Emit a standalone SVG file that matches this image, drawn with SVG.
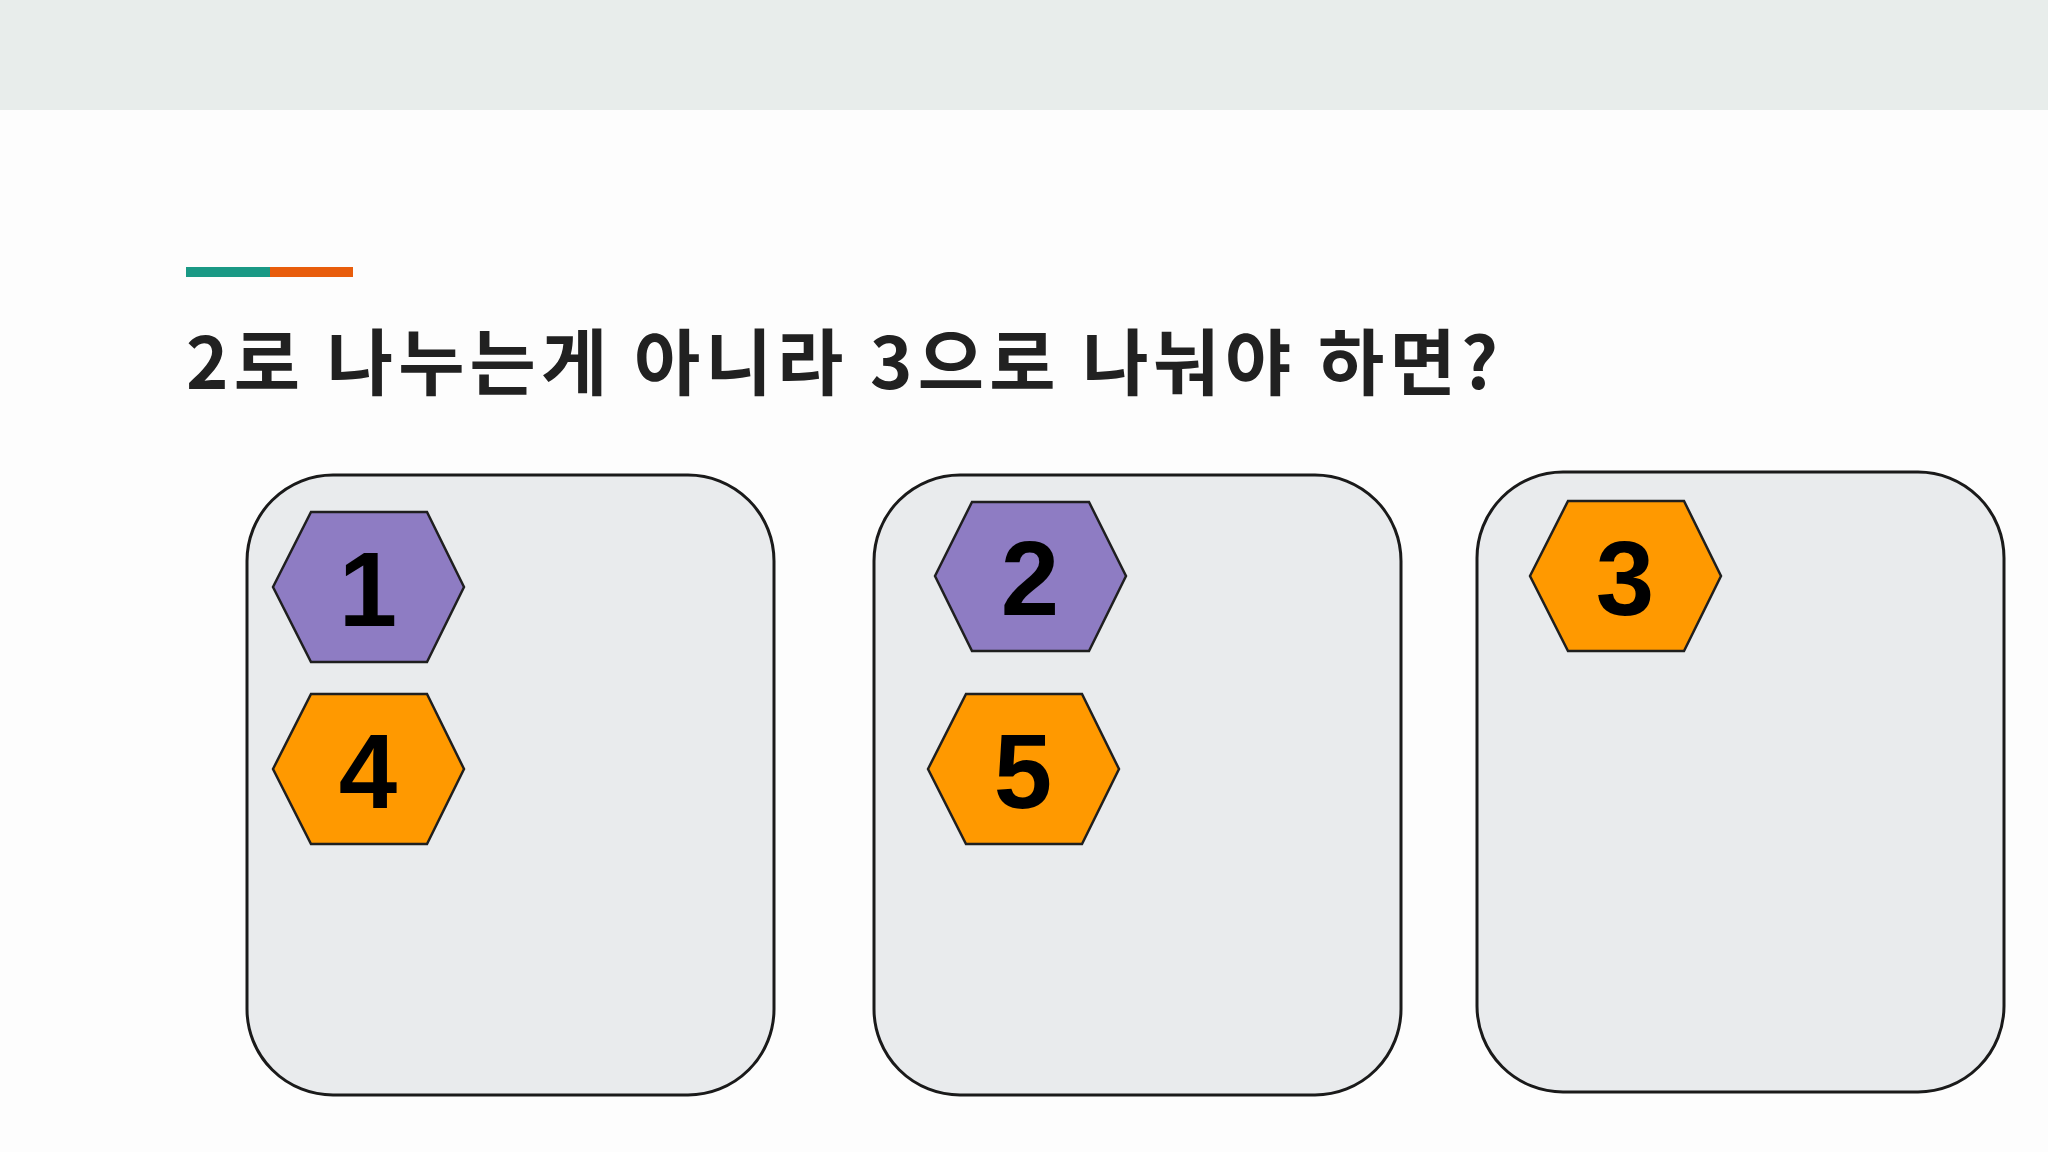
<svg xmlns="http://www.w3.org/2000/svg" width="2048" height="1152" viewBox="0 0 2048 1152">
<style>
.box{fill:#e9ebed;stroke:#1a1a1a;stroke-width:3}
.hex{stroke:#1f1f1f;stroke-width:2.5;stroke-linejoin:miter}
.p{fill:#8e7cc3}
.o{fill:#ff9900}
.num{font-family:"Liberation Sans",Arial,sans-serif;font-weight:700;font-size:105px;fill:#000;text-anchor:middle}
.title{font-family:"Noto Sans CJK KR","Noto Sans",sans-serif;font-weight:700;font-size:72px;fill:#212121}
</style>
<rect x="0" y="0" width="2048" height="1152" fill="#fdfdfd"/>
<rect x="0" y="0" width="2048" height="110" fill="#e8edeb"/>
<rect x="186" y="267" width="84" height="10" fill="#1a9985"/>
<rect x="270" y="267" width="83" height="10" fill="#e85d0c"/>
<text class="title" x="186" y="389" textLength="1312" lengthAdjust="spacing">2로 나누는게 아니라 3으로 나눠야 하면?</text>
<g id="group1">
<rect class="box" x="247" y="475" width="527" height="620" rx="86" ry="86"/>
</g>
<g id="group2">
<rect class="box" x="874" y="475" width="527" height="620" rx="86" ry="86"/>
</g>
<g id="group3">
<rect class="box" x="1477" y="472" width="527" height="620" rx="86" ry="86"/>
</g>
<g id="hex1">
<polygon class="hex p" points="273,587 311,512 427,512 464,587 427,662 311,662"/>
<text class="num" x="368" y="626">1</text>
</g>
<g id="hex4">
<polygon class="hex o" points="273,769 311,694 427,694 464,769 427,844 311,844"/>
<text class="num" x="368" y="808">4</text>
</g>
<g id="hex2">
<polygon class="hex p" points="935,576 972,502 1089,502 1126,576 1089,651 972,651"/>
<text class="num" x="1030" y="615">2</text>
</g>
<g id="hex5">
<polygon class="hex o" points="928,769 966,694 1082,694 1119,769 1082,844 966,844"/>
<text class="num" x="1023" y="808">5</text>
</g>
<g id="hex3">
<polygon class="hex o" points="1530,576 1568,501 1684,501 1721,576 1684,651 1568,651"/>
<text class="num" x="1625" y="615">3</text>
</g>
<g id="connectors"></g>
</svg>
